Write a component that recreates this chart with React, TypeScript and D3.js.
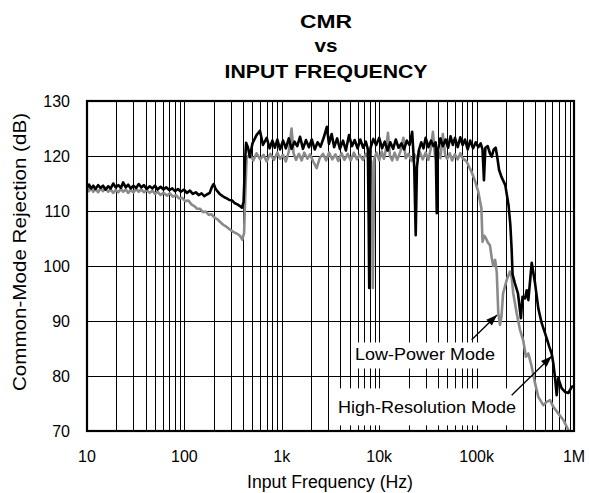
import React from 'react';
import * as d3 from 'd3';

const xTickValues = [10, 100, 1e3, 1e4, 1e5, 1e6];
const xTickLabels = ['10', '100', '1k', '10k', '100k', '1M'];
const yTickValues = [70, 80, 90, 100, 110, 120, 130];

// High-Resolution Mode (black): [frequency Hz, CMR dB]
const highResolutionMode: [number, number][] = [
  [10,114.3],[10.5,114.8],[11,114.1],[11.6,114.6],[12.2,114.0],[13,114.7],[13.8,114.2],[14.6,114.6],[15.5,113.9],[16.5,114.5],[17.5,114.1],[18.6,115.0],[19.7,114.3],[21,114.7],[22.3,114.2],[23.5,115.2],[25,114.3],[26.5,114.8],[28,114.1],[30,114.6],[32,114.2],[34,114.9],[36,114.3],[38.5,114.7],[41,114.0],[44,114.5],[47,114.1],[50,114.6],[53,113.9],[57,114.4],[61,113.9],[65,114.3],[70,113.8],[75,114.1],[80,113.6],[86,114.0],[92,113.5],[99,113.9],[106,113.3],[114,113.7],[122,113.1],[131,113.4],[140,112.9],[150,113.2],[160,112.7],[170,113.0],[182,113.3],[192,114.4],[200,114.9],[208,114.1],[218,113.6],[230,113.1],[243,112.8],[257,112.5],[272,112.3],[290,112.0],[310,111.9],[330,111.4],[350,111.2],[372,110.9],[390,110.6],[405,111.6],[418,118.5],[430,122.4],[450,121.5],[470,119.8],[500,122.3],[550,123.8],[597,124.6],[640,122.0],[700,123.3],[750,121.4],[800,122.8],[850,121.5],[900,123.0],[960,121.2],[1030,122.8],[1100,121.4],[1180,123.2],[1260,121.3],[1350,122.6],[1440,121.8],[1540,123.5],[1650,121.3],[1770,122.9],[1900,121.6],[2030,123.0],[2180,121.2],[2330,122.5],[2500,121.7],[2700,123.4],[2900,125.3],[3050,122.2],[3250,124.0],[3450,121.6],[3700,123.2],[3950,121.3],[4250,122.8],[4550,121.0],[4900,123.8],[5250,121.8],[5600,122.9],[6000,121.4],[6400,123.0],[6850,121.5],[7300,122.6],[7650,121.2],[7800,108],[7900,96.0],[8000,110],[8150,121.5],[8700,123.1],[9300,122.0],[10000,123.3],[10700,121.4],[11400,122.6],[12200,121.0],[13000,122.5],[13900,121.3],[14800,123.0],[15800,121.5],[16900,122.3],[18000,121.2],[19200,122.8],[20500,122.0],[21800,124.4],[22900,118],[23700,105.6],[24400,118],[25500,121.0],[27000,122.5],[28500,121.4],[30000,123.3],[32000,121.6],[34000,122.8],[36000,121.8],[38000,122.5],[39000,109.6],[40000,121.0],[42500,123.2],[45000,121.8],[48000,123.0],[51000,121.5],[54000,123.6],[57000,122.0],[60000,123.3],[64000,121.6],[68000,123.4],[72000,122.0],[76000,123.0],[81000,121.2],[86000,122.8],[92000,121.4],[98000,122.5],[104000,121.6],[110000,122.3],[115000,121.2],[119000,115.6],[123000,121.5],[130000,121.8],[137000,120.5],[143000,119.9],[150000,121.2],[157000,121.5],[163000,119.8],[170000,117.5],[180000,116.2],[197000,114.7],[213000,111.0],[222000,107.5],[229000,103.0],[234000,98.5],[247000,96.9],[266000,95.0],[285000,90.5],[296000,94.4],[314000,94.1],[327000,95.6],[340000,93.8],[368000,100.6],[398000,96.9],[430000,92.3],[466000,89.6],[504000,87.8],[532000,86.5],[558000,85.3],[590000,84.1],[613000,82.3],[637000,79.9],[664000,76.5],[689000,79.6],[746000,77.8],[809000,77.1],[874000,76.9],[946000,78.0],[1000000,78.2],
];

// Low-Power Mode (gray): [frequency Hz, CMR dB]
const lowPowerMode: [number, number][] = [
  [10,114.5],[10.5,113.6],[11,114.2],[11.6,113.5],[12.2,114.0],[13,113.4],[13.8,114.1],[14.6,113.6],[15.5,114.2],[16.5,113.5],[17.5,113.9],[18.6,113.3],[19.7,113.8],[21,113.4],[22.3,114.0],[23.5,113.5],[25,113.9],[26.5,113.3],[28,113.8],[30,113.4],[32,114.0],[34,113.5],[36,113.9],[38.5,113.4],[41,113.8],[44,113.3],[47,113.7],[50,113.1],[53,113.5],[57,112.9],[61,113.3],[66,112.8],[71,113.2],[76,112.6],[82,112.9],[88,112.3],[95,112.4],[102,111.8],[110,111.9],[118,111.2],[126,110.9],[135,110.4],[145,110.4],[155,109.8],[166,109.9],[178,109.3],[190,109.4],[204,108.8],[218,108.5],[233,108.0],[250,107.5],[272,107.1],[295,106.6],[318,106.2],[345,105.9],[372,105.5],[393,104.8],[410,106],[422,113],[435,119.6],[470,120.3],[510,119.2],[550,120.5],[600,119.4],[650,120.2],[700,119.0],[760,120.4],[830,119.3],[900,120.6],[960,119.5],[1030,120.2],[1100,119.0],[1180,120.8],[1260,125.0],[1320,120.5],[1400,119.3],[1500,120.4],[1600,119.2],[1700,120.6],[1830,119.5],[1950,120.3],[2100,119.0],[2280,117.8],[2450,119.6],[2650,120.4],[2850,119.2],[3050,120.6],[3300,119.4],[3550,120.3],[3800,119.1],[4100,120.5],[4400,119.3],[4750,120.4],[5100,119.2],[5500,120.6],[5900,119.4],[6300,120.2],[6800,119.3],[7300,120.4],[7900,119.5],[8300,119.0],[8500,105],[8600,96.0],[8750,108],[8900,119.5],[9400,120.6],[10000,119.2],[10600,120.8],[11200,119.5],[11800,121.5],[12300,124.2],[12900,120.0],[13600,119.2],[14400,120.6],[15300,119.3],[16500,120.8],[17700,123.3],[18700,119.6],[20000,120.4],[21500,119.1],[23000,120.3],[24500,119.5],[26000,120.8],[28000,119.4],[30000,120.6],[32000,119.3],[34000,121.5],[35600,124.4],[37500,119.8],[40000,121.0],[42500,119.6],[45000,124.0],[47500,120.2],[50000,119.5],[53000,120.5],[56000,119.2],[60000,120.3],[64000,119.4],[68000,120.5],[72000,119.6],[79000,119.0],[85000,117.8],[89000,117.1],[97000,115.3],[104000,113.5],[112000,110.5],[115000,104.4],[120000,105.5],[125000,105.0],[131000,104.2],[137000,103.8],[143000,101.5],[148000,100.0],[155000,101.1],[161000,98.9],[167000,91.4],[174000,89.3],[180000,90.8],[187000,95.0],[204000,97.5],[220000,99.0],[229000,98.0],[238000,95.0],[258000,91.4],[279000,88.4],[301000,86.5],[321000,83.5],[340000,84.1],[368000,81.7],[398000,78.7],[430000,76.2],[484000,74.7],[525000,75.3],[567000,75.6],[613000,74.4],[689000,73.2],[778000,72.0],[874000,70.2],
];

const titleLines = ['CMR', 'vs', 'INPUT FREQUENCY'];
const xAxisTitle = 'Input Frequency (Hz)';
const yAxisTitle = 'Common-Mode Rejection (dB)';

// annotation anchors in data space (frequency, dB)
const annotations = [
  { label: 'Low-Power Mode', textF: 5650, textV: 83.0, tailF: 89000, tailV: 86.6, tipF: 162000, tipV: 91.1, padTop: 17, padBottom: 9, padL: 3, padR: 5, len: 140 },
  { label: 'High-Resolution Mode', textF: 3780, textV: 73.2, tailF: 229000, tailV: 76.5, tipF: 590000, tipV: 83.6, padTop: 25, padBottom: 12, padL: 5, padR: 4, len: 178 },
];

const W = 589;
const H = 493;
const M = { left: 87, right: 574, top: 101, bottom: 431 };
const FONT = 'Liberation Sans, Arial, Helvetica, sans-serif';

export default function App() {
  const x = d3.scaleLog().domain([10, 1e6]).range([M.left, M.right]);
  const y = d3.scaleLinear().domain([70, 130]).range([M.bottom, M.top]);

  const line = d3
    .line<[number, number]>()
    .x((d) => x(d[0]))
    .y((d) => y(d[1]));

  const gridX: number[] = [];
  for (let d = 10; d < 1e6; d *= 10) {
    for (let k = 1; k <= 9; k++) gridX.push(d * k);
  }
  gridX.push(1e6);
  const gridY = yTickValues.slice(1, -1);
  const crisp = (v: number) => Math.round(v) + 0.5;

  const arrowHead = (x1: number, y1: number, x2: number, y2: number) => {
    const dx = x2 - x1;
    const dy = y2 - y1;
    const L = Math.sqrt(dx * dx + dy * dy);
    const ux = dx / L;
    const uy = dy / L;
    const hl = 11;
    const hw = 4;
    const bx = x2 - ux * hl;
    const by = y2 - uy * hl;
    return `${x2},${y2} ${bx - uy * hw},${by + ux * hw} ${bx + uy * hw},${by - ux * hw}`;
  };

  return (
    <svg width={W} height={H} style={{ position: 'absolute', left: 0, top: 0, background: '#fff' }} fontFamily={FONT}>
      <defs>
        <clipPath id="plotClip">
          <rect x={M.left} y={M.top} width={M.right - M.left} height={M.bottom - M.top} />
        </clipPath>
      </defs>
      <rect x={0} y={0} width={W} height={H} fill="#fff" />
      {/* title */}
      <text x={326} y={28} textAnchor="middle" fontWeight="bold" fontSize={18} textLength={52} lengthAdjust="spacingAndGlyphs">{titleLines[0]}</text>
      <text x={326} y={52} textAnchor="middle" fontWeight="bold" fontSize={18} textLength={23} lengthAdjust="spacingAndGlyphs">{titleLines[1]}</text>
      <text x={326} y={77.5} textAnchor="middle" fontWeight="bold" fontSize={18} textLength={203} lengthAdjust="spacingAndGlyphs">{titleLines[2]}</text>

      {/* grid */}
      <g stroke="#000" strokeWidth={1}>
        {gridX.map((f, i) => (
          <line key={'gx' + i} x1={crisp(x(f))} x2={crisp(x(f))} y1={M.top} y2={M.bottom} />
        ))}
        {gridY.map((v, i) => (
          <line key={'gy' + i} x1={M.left} x2={M.right} y1={crisp(y(v))} y2={crisp(y(v))} />
        ))}
      </g>

      {/* label backgrounds */}
      {annotations.map((a, i) => {
        const tx = x(a.textF);
        const ty = y(a.textV);
        return (
          <rect key={'bg' + i} x={tx - a.padL} y={ty - a.padTop} width={a.len + a.padL + a.padR} height={a.padTop + a.padBottom} fill="#fff" />
        );
      })}

      {/* curves */}
      <g clipPath="url(#plotClip)" fill="none" strokeLinejoin="round" strokeLinecap="round">
        <path d={line(lowPowerMode) || ''} stroke="#8a8a8a" strokeWidth={2.6} />
        <path d={line(highResolutionMode) || ''} stroke="#000" strokeWidth={2.6} />
      </g>

      {/* frame */}
      <rect x={M.left} y={M.top} width={M.right - M.left} height={M.bottom - M.top} fill="none" stroke="#000" strokeWidth={2.2} />

      {/* annotations */}
      {annotations.map((a, i) => {
        const x1 = x(a.tailF);
        const y1 = y(a.tailV);
        const x2 = x(a.tipF);
        const y2 = y(a.tipV);
        return (
          <g key={'an' + i}>
            <text x={x(a.textF)} y={y(a.textV)} fontSize={17} textLength={a.len} lengthAdjust="spacingAndGlyphs" fill="#000">{a.label}</text>
            <line x1={x1} y1={y1} x2={x2} y2={y2} stroke="#000" strokeWidth={1.3} />
            <polygon points={arrowHead(x1, y1, x2, y2)} fill="#000" />
          </g>
        );
      })}

      {/* y tick labels */}
      {yTickValues.map((v) => (
        <text key={'yt' + v} x={70} y={y(v)} dy="0.36em" textAnchor="end" fontSize={16} fill="#000">{v}</text>
      ))}
      {/* x tick labels */}
      {xTickValues.map((f, i) => (
        <text key={'xt' + f} x={x(f)} y={461.5} textAnchor="middle" fontSize={16} fill="#000">{xTickLabels[i]}</text>
      ))}

      {/* axis titles */}
      <text x={330} y={488} textAnchor="middle" fontSize={17.5} textLength={166} lengthAdjust="spacingAndGlyphs">{xAxisTitle}</text>
      <text transform="translate(26,252) rotate(-90)" textAnchor="middle" fontSize={17.5} textLength={278} lengthAdjust="spacingAndGlyphs">{yAxisTitle}</text>
    </svg>
  );
}
